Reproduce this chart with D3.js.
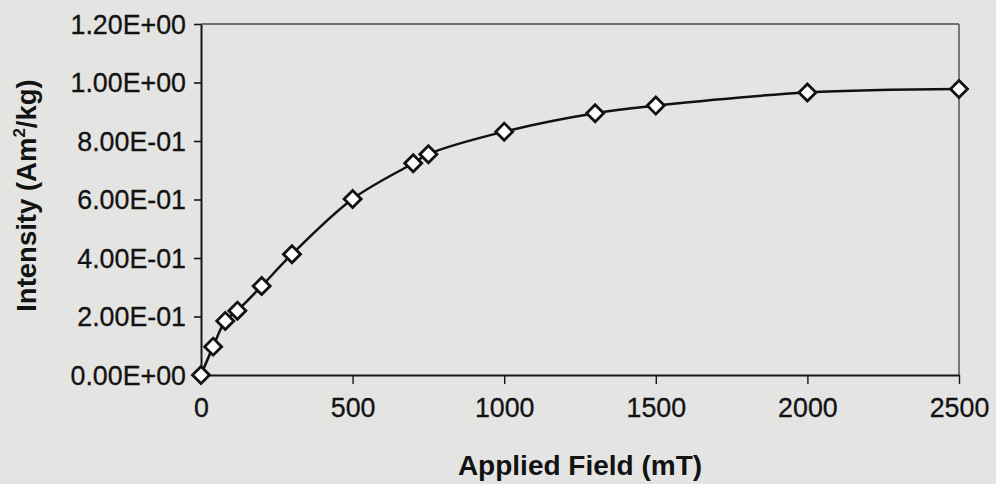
<!DOCTYPE html>
<html>
<head>
<meta charset="utf-8">
<script src="https://cdn.jsdelivr.net/npm/d3@7"></script>
<style>
  html, body { margin: 0; padding: 0; background: #e4e4e2; }
  svg { display: block; }
  text { font-family: "Liberation Sans", Arial, sans-serif; fill: #121212; }
</style>
</head>
<body>
<svg id="chart" width="996" height="484"></svg>
<script>
// Remanent magnetisation acquired versus applied field
const appliedField = [0, 40, 80, 120, 200, 300, 500, 700, 750, 1000, 1300, 1500, 2000, 2500];
const intensity    = [0, 0.097, 0.185, 0.22, 0.304, 0.413, 0.602, 0.724, 0.755, 0.832, 0.895, 0.921, 0.966, 0.978];

const xTickValues = [0, 500, 1000, 1500, 2000, 2500];
const yTickValues = [0, 0.2, 0.4, 0.6, 0.8, 1.0, 1.2];
const yTickLabels = ["0.00E+00", "2.00E-01", "4.00E-01", "6.00E-01", "8.00E-01", "1.00E+00", "1.20E+00"];

const xTitle = "Applied Field (mT)";

const svg = d3.select("#chart");
const plotLeft = 201, plotRight = 959, plotTop = 24, plotBottom = 375;

const x = d3.scaleLinear().domain([0, 2500]).range([plotLeft, plotRight]);
const y = d3.scaleLinear().domain([0, 1.2]).range([plotBottom, plotTop]);

// plot area frame (top and right edges)
svg.append("line").attr("x1", plotLeft).attr("x2", plotRight).attr("y1", plotTop).attr("y2", plotTop)
  .attr("stroke", "#4a4a4a").attr("stroke-width", 1.6);
svg.append("line").attr("x1", plotRight).attr("x2", plotRight).attr("y1", plotTop).attr("y2", plotBottom)
  .attr("stroke", "#4a4a4a").attr("stroke-width", 1.4);

// y axis
const yAxis = d3.axisLeft(y)
  .tickValues(yTickValues)
  .tickFormat((d, i) => yTickLabels[i])
  .tickSize(7)
  .tickPadding(8)
  .tickSizeOuter(0);
const gy = svg.append("g").attr("transform", `translate(${plotLeft},0)`).call(yAxis);
gy.select(".domain").attr("stroke", "#161616").attr("stroke-width", 2);
gy.selectAll(".tick line").attr("stroke", "#161616").attr("stroke-width", 1.6);
gy.selectAll(".tick text").attr("font-size", 26.8).attr("font-family", "Liberation Sans, Arial, sans-serif")
  .attr("fill", "#121212").attr("stroke", "#121212").attr("stroke-width", 0.3).attr("dy", "0.34em");

// x axis
const xAxis = d3.axisBottom(x)
  .tickValues(xTickValues)
  .tickFormat(d3.format("d"))
  .tickSize(9)
  .tickPadding(14)
  .tickSizeOuter(0);
const gx = svg.append("g").attr("transform", `translate(0,${plotBottom})`).call(xAxis);
gx.select(".domain").attr("stroke", "#161616").attr("stroke-width", 2);
gx.selectAll(".tick line").attr("stroke", "#161616").attr("stroke-width", 1.4);
gx.selectAll(".tick text").attr("font-size", 26.8).attr("font-family", "Liberation Sans, Arial, sans-serif")
  .attr("fill", "#121212").attr("stroke", "#121212").attr("stroke-width", 0.3);

// axis titles
svg.append("text")
  .attr("x", (plotLeft + plotRight) / 2).attr("y", 475)
  .attr("text-anchor", "middle")
  .attr("font-size", 28).attr("font-weight", "bold")
  .text(xTitle);

const yt = svg.append("text")
  .attr("transform", `translate(36,${(plotTop + plotBottom) / 2 - 4}) rotate(-90)`)
  .attr("text-anchor", "middle")
  .attr("font-size", 27.5).attr("font-weight", "bold");
yt.append("tspan").text("Intensity (Am");
yt.append("tspan").attr("font-size", 17).attr("dy", -11).text("2");
yt.append("tspan").attr("dy", 11).text("/kg)");

// smoothed curve through the measurements
const pts = appliedField.map((f, i) => [f, intensity[i]]);
const line = d3.line()
  .x(d => x(d[0]))
  .y(d => y(d[1]))
  .curve(d3.curveCatmullRom.alpha(0.5));
svg.append("path")
  .datum(pts)
  .attr("d", line)
  .attr("fill", "none")
  .attr("stroke", "#141010")
  .attr("stroke-width", 2.5);

// open diamond markers
const diamond = d3.symbol().type(d3.symbolSquare).size(145);
svg.append("g").selectAll("path")
  .data(pts)
  .join("path")
  .attr("d", diamond)
  .attr("transform", d => `translate(${x(d[0])},${y(d[1])}) rotate(45)`)
  .attr("fill", "#ffffff")
  .attr("stroke", "#141010")
  .attr("stroke-width", 2.8);
</script>
</body>
</html>
